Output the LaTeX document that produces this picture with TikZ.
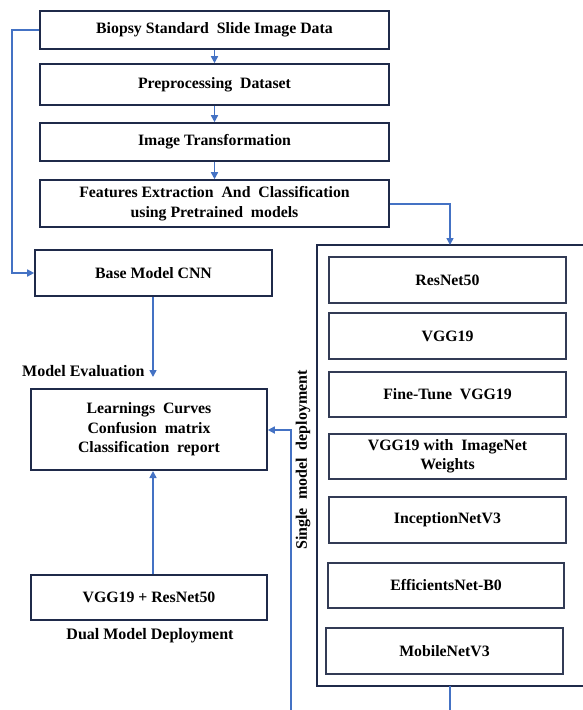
\documentclass[tikz,border=0pt]{standalone}
\usepackage{fontspec}
\setmainfont{Liberation Serif}
\usetikzlibrary{arrows.meta,positioning}
\definecolor{boxline}{HTML}{1F2A4A}
\definecolor{arrblue}{HTML}{4472C4}
\tikzset{
  stepbox/.style={draw=boxline, line width=1.6pt, fill=white, inner sep=0pt, align=center,
     font=\fontsize{15.8}{19.5}\selectfont\bfseries},
  innerbox/.style={draw=boxline!80!gray, line width=1.1pt, fill=white, inner sep=0pt, align=center,
     font=\fontsize{15.8}{18.5}\selectfont\bfseries},
  conn/.style={draw=arrblue, line width=1.6pt},
  arr/.style={conn, -{Triangle[length=7pt,width=7pt]}},
  lbl/.style={font=\fontsize{16}{18}\selectfont\bfseries, inner sep=0pt},
}
\begin{document}
\begin{tikzpicture}[x=1pt,y=-1pt]
\useasboundingbox (0,0) rectangle (583,710);
\clip (0,0) rectangle (583,710);
% top chain
\node[stepbox, minimum width=349pt, minimum height=38pt] (bio) at (214.5,30) {Biopsy Standard\ \ Slide Image Data};
\node[stepbox, minimum width=349pt, minimum height=41pt] (pre) at (214.5,84.5) {Preprocessing\ \ Dataset};
\node[stepbox, minimum width=349pt, minimum height=38pt] (trans) at (214.5,142) {Image Transformation};
\node[stepbox, minimum width=349pt, minimum height=47pt] (feat) at (214.5,203.5) {Features Extraction\ \ And\ \ Classification\\using Pretrained\ \ models};
\draw[arr] (bio.south) -- (pre.north);
\draw[arr] (pre.south) -- (trans.north);
\draw[arr] (trans.south) -- (feat.north);
% base model
\node[stepbox, minimum width=237pt, minimum height=46pt] (base) at (153.5,273) {Base Model CNN};
\coordinate (lc1) at (12,30);
\coordinate (lc2) at (12,273);
\draw[arr] (bio.west) -- (lc1) -- (lc2) -- (base.west);
% evaluation
\node[stepbox, minimum width=236pt, minimum height=81pt] (eval) at (149,429.5) {Learnings\ \ Curves\\Confusion\ \ matrix\\Classification\ \ report};
\node[lbl, anchor=west] (evlbl) at (22,371) {Model Evaluation};
\draw[arr] (base.south -| 153,0) -- (153,377);
% dual
\node[stepbox, minimum width=236pt, minimum height=45pt] (dual) at (149,597.5) {VGG19 + ResNet50};
\node[lbl] (duallbl) at (150,636) {Dual Model Deployment};
\draw[arr] (dual.north -| 153,0) -- (153,471);
% single model container
\draw[boxline, line width=1.6pt] (592,245) -- (317,245) -- (317,686) -- (592,686);
\coordinate (outtop) at (450,245);
\coordinate (outbot) at (450,686);
\node[lbl, rotate=90] (single) at (303,460) {Single\ \ model\ \ deployment};
\node[innerbox, minimum width=237pt, minimum height=46pt] (m1) at (447.5,280) {ResNet50};
\node[innerbox, minimum width=237pt, minimum height=46pt] (m2) at (447.5,336) {VGG19};
\node[innerbox, minimum width=237pt, minimum height=45pt] (m3) at (447.5,394.5) {Fine-Tune\ \ VGG19};
\node[innerbox, minimum width=237pt, minimum height=45pt] (m4) at (447.5,456.5) {VGG19 with\ \ ImageNet\\Weights};
\node[innerbox, minimum width=237pt, minimum height=46pt] (m5) at (447.5,520) {InceptionNetV3};
\node[innerbox, minimum width=236pt, minimum height=45pt] (m6) at (446,585.5) {EfficientsNet-B0};
\node[innerbox, minimum width=237pt, minimum height=46pt] (m7) at (444.5,651) {MobileNetV3};
% connectors
\coordinate (fc) at (450,204);
\draw[arr] (feat.east |- fc) -- (fc) -- (outtop);
\coordinate (botend) at (450,712);
\draw[conn] (outbot) -- (botend);
\coordinate (rstart) at (291,712);
\coordinate (rturn) at (291,430);
\draw[arr] (rstart) -- (rturn) -- (eval.east |- rturn);
\end{tikzpicture}
\end{document}
